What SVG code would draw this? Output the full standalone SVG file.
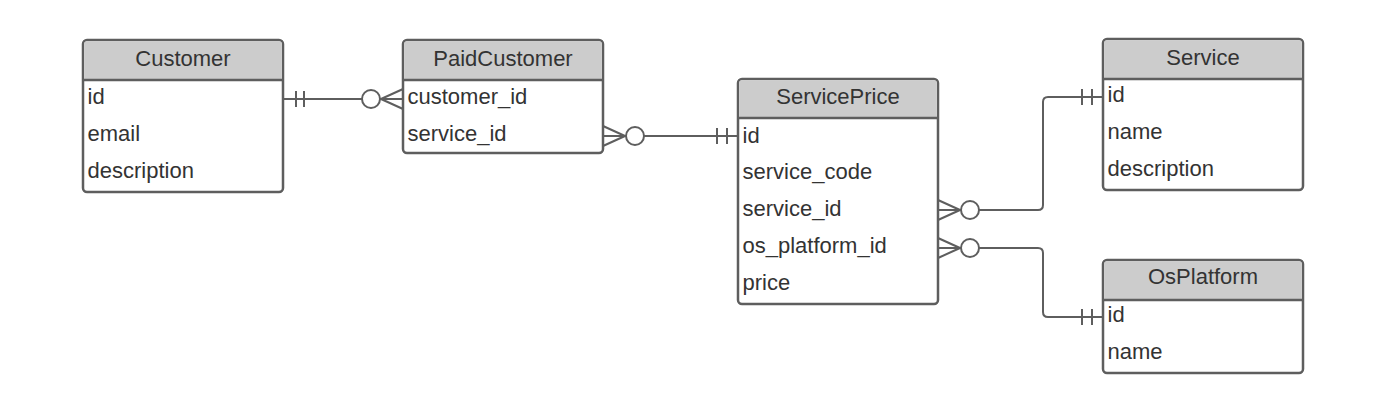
<svg xmlns="http://www.w3.org/2000/svg" width="1386" height="411" viewBox="0 0 1386 411">
<style>
.box{fill:#ffffff;stroke:#5e5e5e;stroke-width:2.5}
.hdr{fill:#cccccc}
.sep{stroke:#5e5e5e;stroke-width:2.5}
.t{font-family:"Liberation Sans",Arial,sans-serif;font-size:22px;fill:#333333}
.h{text-anchor:middle}
.c{fill:none;stroke:#5e5e5e;stroke-width:2}
.o{fill:#ffffff;stroke:#5e5e5e;stroke-width:2}
</style>
<rect width="1386" height="411" fill="#ffffff"/>
<g id="connectors">
  <!-- Customer.id -> PaidCustomer.customer_id -->
  <path class="c" d="M283 99 H403 M296 91 V107 M304 91 V107 M381 99 L403 89 M381 99 L403 109"/>
  <circle class="o" cx="371" cy="99" r="9"/>
  <!-- PaidCustomer.service_id -> ServicePrice.id -->
  <path class="c" d="M603 136 H738 M625 136 L603 126 M625 136 L603 146 M717 128 V144 M727 128 V144"/>
  <circle class="o" cx="635" cy="136" r="9"/>
  <!-- ServicePrice.service_id -> Service.id -->
  <path class="c" d="M938 210 H1038 Q1043 210 1043 205 V102 Q1043 97 1048 97 H1103 M960 210 L938 200 M960 210 L938 220 M1082 89 V105 M1092 89 V105"/>
  <circle class="o" cx="970" cy="210" r="9"/>
  <!-- ServicePrice.os_platform_id -> OsPlatform.id -->
  <path class="c" d="M938 248 H1038 Q1043 248 1043 253 V312 Q1043 317 1048 317 H1103 M960 248 L938 238 M960 248 L938 258 M1082 309 V325 M1092 309 V325"/>
  <circle class="o" cx="970" cy="248" r="9"/>
</g>
<g id="Customer">
  <rect class="box" x="83" y="40" width="200" height="152" rx="4"/>
  <path class="hdr" d="M87 41.25 H279 Q281.75 41.25 281.75 44 V80 H84.25 V44 Q84.25 41.25 87 41.25 Z"/>
  <line class="sep" x1="83" y1="80" x2="283" y2="80"/>
  <text class="t h" x="183" y="66">Customer</text>
  <text class="t" x="87.5" y="104">id</text>
  <text class="t" x="87.5" y="141">email</text>
  <text class="t" x="87.5" y="177.5">description</text>
</g>
<g id="PaidCustomer">
  <rect class="box" x="403" y="40" width="200" height="113" rx="4"/>
  <path class="hdr" d="M407 41.25 H599 Q601.75 41.25 601.75 44 V80 H404.25 V44 Q404.25 41.25 407 41.25 Z"/>
  <line class="sep" x1="403" y1="80" x2="603" y2="80"/>
  <text class="t h" x="503" y="66">PaidCustomer</text>
  <text class="t" x="407.5" y="104">customer_id</text>
  <text class="t" x="407.5" y="141">service_id</text>
</g>
<g id="ServicePrice">
  <rect class="box" x="738" y="79" width="200" height="225" rx="4"/>
  <path class="hdr" d="M742 80.25 H934 Q936.75 80.25 936.75 83 V118 H739.25 V83 Q739.25 80.25 742 80.25 Z"/>
  <line class="sep" x1="738" y1="118" x2="938" y2="118"/>
  <text class="t h" x="838" y="104">ServicePrice</text>
  <text class="t" x="742.5" y="142.5">id</text>
  <text class="t" x="742.5" y="179">service_code</text>
  <text class="t" x="742.5" y="216">service_id</text>
  <text class="t" x="742.5" y="252.5">os_platform_id</text>
  <text class="t" x="742.5" y="289.5">price</text>
</g>
<g id="Service">
  <rect class="box" x="1103" y="39" width="200" height="151" rx="4"/>
  <path class="hdr" d="M1107 40.25 H1299 Q1301.75 40.25 1301.75 43 V79 H1104.25 V43 Q1104.25 40.25 1107 40.25 Z"/>
  <line class="sep" x1="1103" y1="79" x2="1303" y2="79"/>
  <text class="t h" x="1203" y="64.5">Service</text>
  <text class="t" x="1107.5" y="102">id</text>
  <text class="t" x="1107.5" y="138.5">name</text>
  <text class="t" x="1107.5" y="175.5">description</text>
</g>
<g id="OsPlatform">
  <rect class="box" x="1103" y="260" width="200" height="113" rx="4"/>
  <path class="hdr" d="M1107 261.25 H1299 Q1301.75 261.25 1301.75 264 V300 H1104.25 V264 Q1104.25 261.25 1107 261.25 Z"/>
  <line class="sep" x1="1103" y1="300" x2="1303" y2="300"/>
  <text class="t h" x="1203" y="284">OsPlatform</text>
  <text class="t" x="1107.5" y="322">id</text>
  <text class="t" x="1107.5" y="358.5">name</text>
</g>
</svg>
